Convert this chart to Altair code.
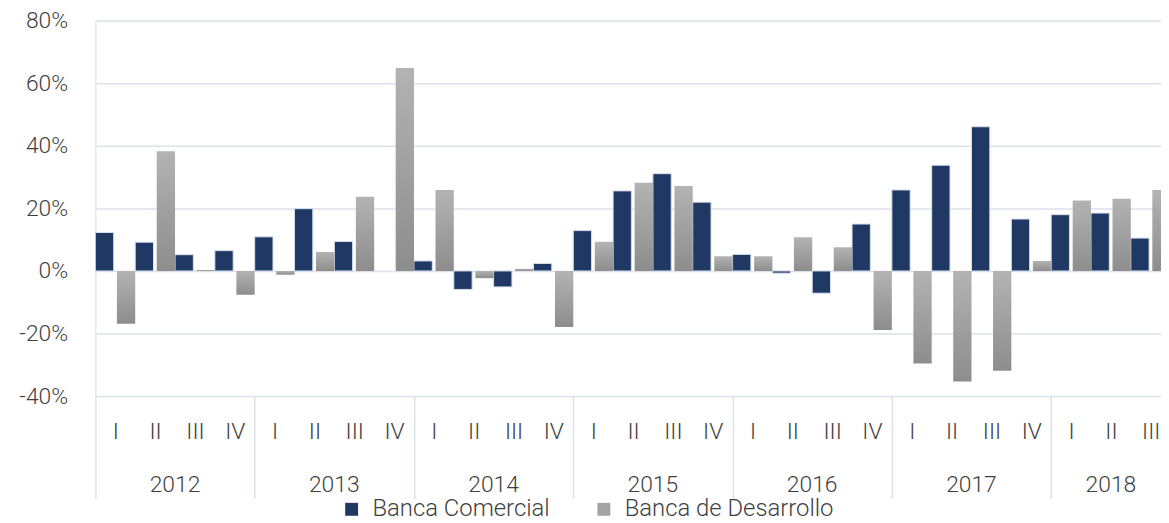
import altair as alt
import pandas as pd

years = ["2012", "2013", "2014", "2015", "2016", "2017", "2018"]
quarters = ["I", "II", "III", "IV"]
keys = [f"{y}-{q}" for y in years for q in quarters][:27]  # 2012-I ... 2018-III

series_names = ["Banca Comercial", "Banca de Desarrollo"]

comercial = [12.3, 9.2, 5.2, 6.5,
             10.9, 19.9, 9.4, None,
             3.2, -5.9, -5.1, 2.4,
             12.9, 25.6, 31.1, 22.0,
             5.3, -0.7, -7.1, 15.0,
             25.9, 33.8, 46.1, 16.6,
             18.0, 18.5, 10.5]
desarrollo = [-16.9, 38.3, 0.3, -7.6,
              -1.2, 6.1, 23.7, 64.9,
              25.9, -2.3, 0.7, -17.9,
              9.3, 28.2, 27.2, 4.7,
              4.7, 10.8, 7.6, -18.9,
              -29.6, -35.3, -31.9, 3.2,
              22.5, 23.1, 25.9]

rows = []
for k, c, d in zip(keys, comercial, desarrollo):
    rows.append({"key": k, "series": series_names[0], "value": c})
    rows.append({"key": k, "series": series_names[1], "value": d})
df = pd.DataFrame(rows)

BLUE = "#203864"
GRID = "#dde1ea"
TEXT = "#3f3f3f"
FONT = "Roboto"
FS = 23
PLOT_W = 1073
FULL_W = 1082.7
PLOT_H = 378

grey_gradient = alt.Gradient(
    gradient="linear",
    stops=[alt.GradientStop(color="#b3b3b3", offset=0),
           alt.GradientStop(color="#8d8d8d", offset=1)],
    x1=0, x2=0, y1=0, y2=1,
)

x_scale = alt.Scale(domain=keys, range=[0, FULL_W], paddingInner=0, paddingOuter=0)
xoff = alt.XOffset("series:N", scale=alt.Scale(domain=series_names, paddingInner=0.15, paddingOuter=0))
y_enc = alt.Y(
    "value:Q",
    scale=alt.Scale(domain=[-40, 80], nice=False),
    axis=alt.Axis(
        values=[-40, -20, 0, 20, 40, 60, 80],
        labelExpr="datum.value + '%'",
        title=None, domain=False, ticks=False,
        gridColor=GRID, gridWidth=1.5,
        labelFont=FONT, labelFontSize=FS, labelFontWeight=300, labelColor=TEXT,
        labelPadding=28,
    ),
)
color_enc = alt.Color(
    "series:N",
    scale=alt.Scale(domain=series_names, range=[BLUE, "#a3a3a3"]),
    legend=alt.Legend(
        title=None, orient="none", direction="horizontal",
        legendX=246, legendY=480,
        symbolType="square", symbolSize=169, symbolStrokeWidth=0,
        labelFont=FONT, labelFontSize=24, labelFontWeight=300, labelColor=TEXT,
        labelOffset=9, columnPadding=42, labelLimit=400,
    ),
)

quarter_axis = alt.Axis(
    orient="bottom", title=None, domain=False, grid=False,
    labelExpr="split(datum.value, '-')[1]",
    labelAngle=0, labelOverlap=False,
    labelFont=FONT, labelFontSize=FS, labelFontWeight=300, labelColor=TEXT,
    labelPadding=-78,
    ticks=True, tickBand="extent", tickExtra=True, tickSize=103, tickColor=GRID, tickWidth=1.5,
    tickOpacity={"condition": {"test": "datum.extra || split(datum.value, '-')[1] == 'IV'", "value": 1}, "value": 0},
)
year_axis = alt.Axis(
    orient="bottom", title=None, domain=False, grid=False, ticks=False,
    labelExpr="split(datum.value, '-')[1] == 'II' ? split(datum.value, '-')[0] : ''",
    labelAngle=0, labelOverlap=False,
    labelFont=FONT, labelFontSize=FS, labelFontWeight=300, labelColor=TEXT,
    labelPadding=78,
    labelOffset={"condition": {"test": "datum.value == '2018-II'", "value": 0}, "value": 20},
)

base = alt.Chart(df)

blue = base.transform_filter(
    alt.datum.series == series_names[0]
).mark_bar(stroke="#d6deeb", strokeWidth=1, clip=True).encode(
    x=alt.X("key:N", sort=keys, scale=x_scale, axis=quarter_axis),
    xOffset=xoff,
    y=y_enc,
    color=color_enc,
)

grey = base.transform_filter(
    alt.datum.series == series_names[1]
).mark_bar(clip=True).encode(
    x=alt.X("key:N", sort=keys, scale=x_scale, axis=year_axis),
    xOffset=xoff,
    y=y_enc,
    color=color_enc,
    fill=alt.value(grey_gradient),
)

chart = alt.layer(blue, grey).resolve_scale(x="shared").resolve_axis(x="independent").properties(
    width=PLOT_W, height=PLOT_H,
    autosize=alt.AutoSizeParams(type="none"),
    padding={"left": 88, "top": 11, "right": 0, "bottom": 127},
).configure_view(stroke=None).configure(background="white")

chart.save("out.html", embed_options={"renderer": "svg", "actions": False})
